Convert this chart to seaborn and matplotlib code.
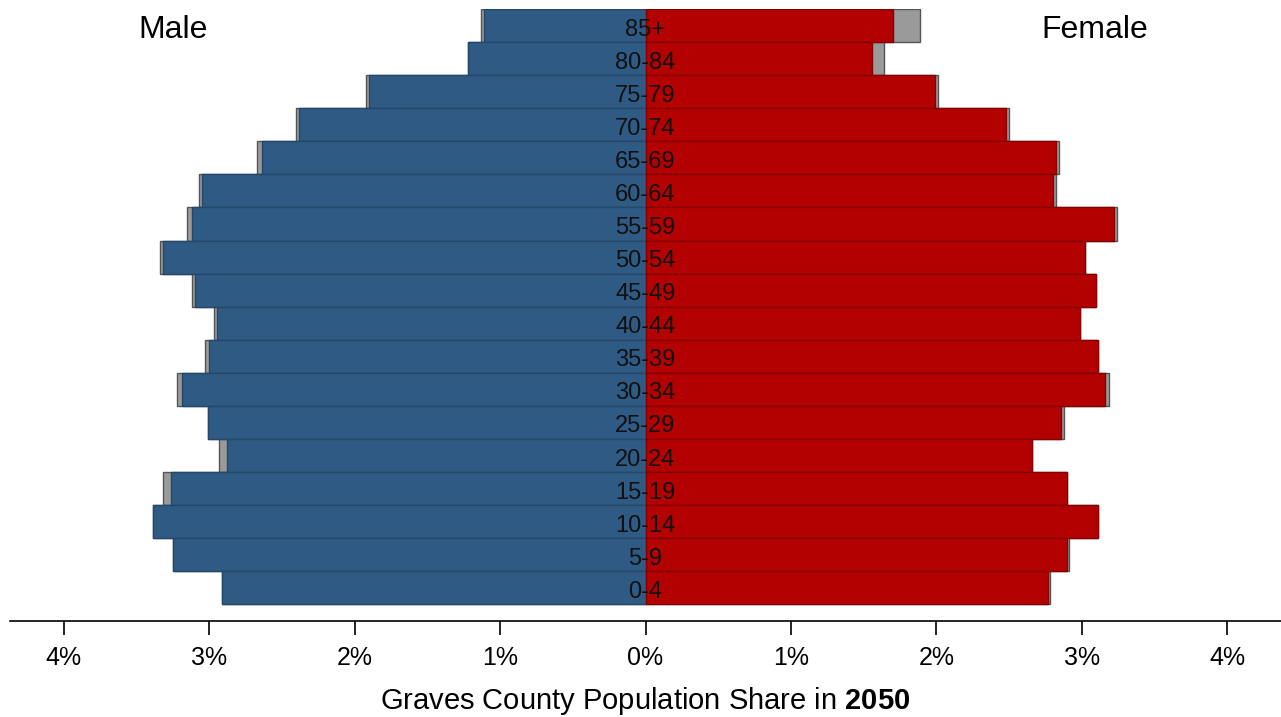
import numpy as np
import pandas as pd
import matplotlib
matplotlib.use("Agg")
import matplotlib.pyplot as plt
import seaborn as sns

# age groups, top to bottom
ages = ['85+', '80-84', '75-79', '70-74', '65-69', '60-64', '55-59', '50-54', '45-49',
        '40-44', '35-39', '30-34', '25-29', '20-24', '15-19', '10-14', '5-9', '0-4']

# population share (%) in 2050
male = [1.11, 1.22, 1.90, 2.38, 2.64, 3.05, 3.12, 3.32, 3.10,
        2.95, 3.00, 3.19, 3.01, 2.88, 3.26, 3.39, 3.25, 2.91]
female = [1.70, 1.56, 1.99, 2.48, 2.82, 2.80, 3.22, 3.02, 3.10,
          2.99, 3.11, 3.16, 2.86, 2.66, 2.90, 3.11, 2.90, 2.77]

# gray background bars
male_gray = [1.13, 1.22, 1.92, 2.40, 2.67, 3.07, 3.15, 3.34, 3.12,
             2.97, 3.03, 3.22, 3.01, 2.93, 3.32, 3.39, 3.25, 2.91]
female_gray = [1.89, 1.64, 2.01, 2.50, 2.84, 2.82, 3.24, 3.02, 3.10,
               2.99, 3.11, 3.19, 2.88, 2.66, 2.90, 3.11, 2.91, 2.78]

df = pd.DataFrame({'age': ages,
                   'male': -np.array(male), 'female': female,
                   'male_gray': -np.array(male_gray), 'female_gray': female_gray})

sns.set_style('white')
plt.rcParams['font.family'] = ['Liberation Sans', 'DejaVu Sans']
plt.rcParams['text.color'] = 'black'
plt.rcParams['xtick.color'] = 'black'
plt.rcParams['axes.labelcolor'] = 'black'
plt.rcParams['mathtext.fontset'] = 'custom'
plt.rcParams['mathtext.rm'] = 'Liberation Sans'
plt.rcParams['mathtext.bf'] = 'Liberation Sans:bold'

fig = plt.figure(figsize=(12.81, 7.17), dpi=100)
ax = fig.add_axes([10 / 1281, 96 / 717, 1 - 10 / 1281, 612 / 717])

blue = '#2e5a84'
red = '#b30000'
gray = '#9a9a9a'

for col, c, ec in [('male_gray', gray, '#555555'), ('female_gray', gray, '#555555'),
                   ('male', blue, '#24476a'), ('female', red, '#850000')]:
    sns.barplot(data=df, x=col, y='age', order=ages, color=c, saturation=1,
                width=1, edgecolor=ec, linewidth=1, orient='h', ax=ax)

# age labels in the middle
for i, a in enumerate(ages):
    ax.text(0, i + 0.12, a, ha='center', va='center', fontsize=17, color='#111111')

ax.text(-3.25, 0.12, 'Male', ha='center', va='center', fontsize=23)
ax.text(3.09, 0.12, 'Female', ha='center', va='center', fontsize=23)

ax.set_xlim(-4.37, 4.37)
ax.set_ylim(18.0, -0.5)
ticks = [-4, -3, -2, -1, 0, 1, 2, 3, 4]
ax.set_xticks(ticks)
ax.set_xticklabels([f'{abs(t)}%' for t in ticks], fontsize=18)
ax.set_yticks([])
ax.set_ylabel('')
ax.set_xlabel(r'Graves County Population Share in $\mathbf{2050}$', fontsize=21, labelpad=11)
ax.tick_params(axis='x', bottom=True, direction='out', length=10, width=1.2, color='black', pad=8)

sns.despine(ax=ax, left=True, top=True, right=True)
ax.spines['bottom'].set_color('black')
ax.spines['bottom'].set_linewidth(1.2)

fig.savefig('out.png', dpi=100)
